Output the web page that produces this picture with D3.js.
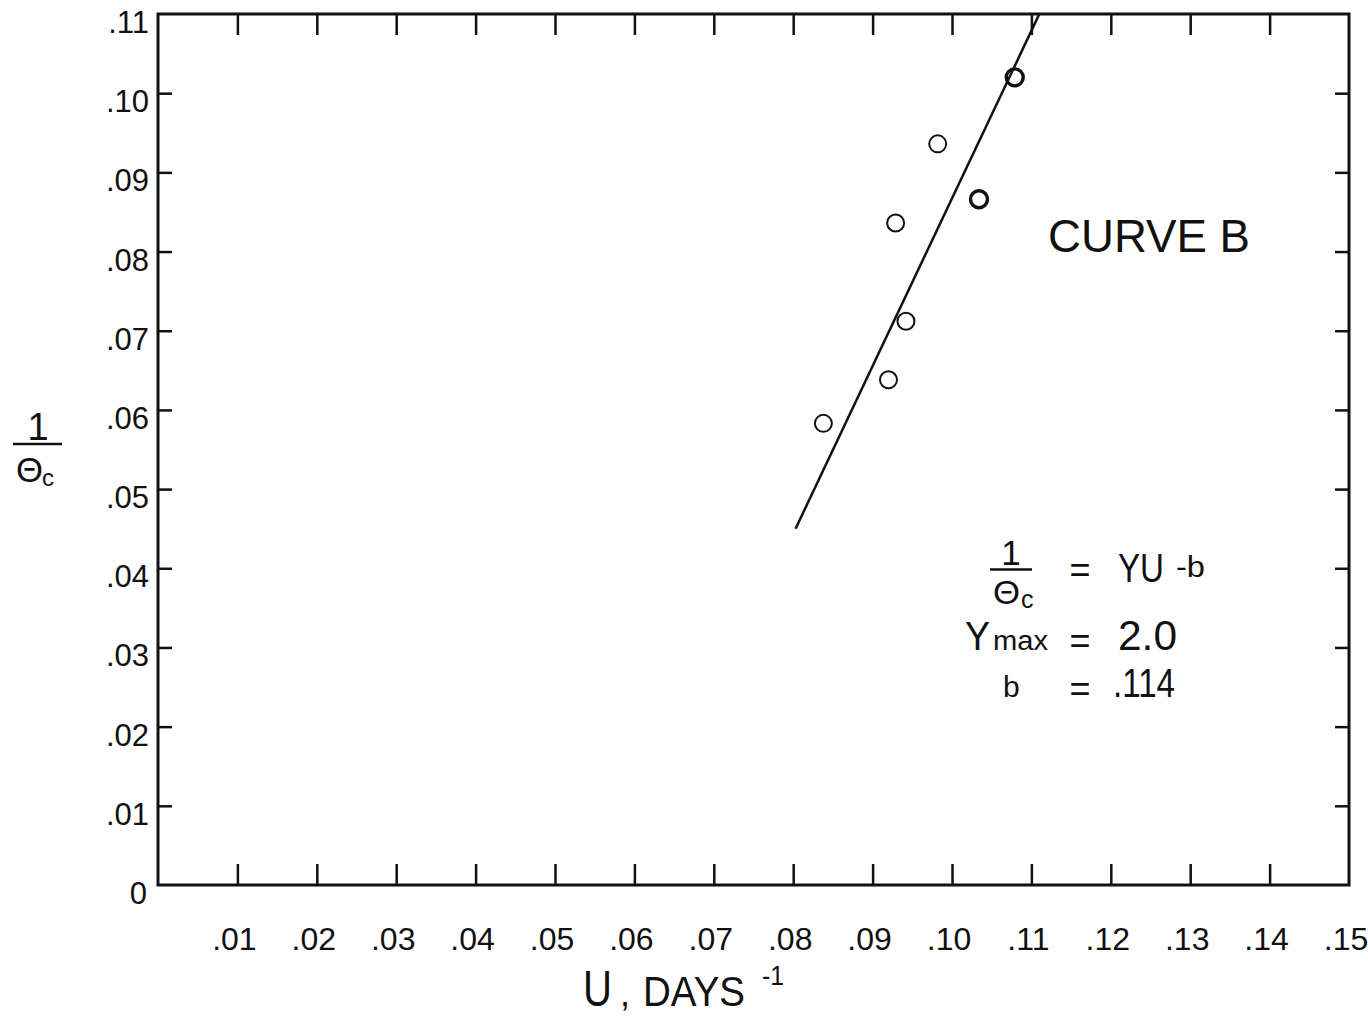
<!DOCTYPE html>
<html>
<head>
<meta charset="utf-8">
<script src="https://cdn.jsdelivr.net/npm/d3@7"></script>
<style>
  html, body { margin: 0; padding: 0; background: #fff; }
  svg { display: block; }
  text { font-family: "Liberation Sans", Arial, sans-serif; fill: #111; }
</style>
</head>
<body>
<svg id="chart" width="1368" height="1018"></svg>
<script>
// ---- data ----
const xTicks = [0.01, 0.02, 0.03, 0.04, 0.05, 0.06, 0.07, 0.08, 0.09, 0.10, 0.11, 0.12, 0.13, 0.14, 0.15];
const xTickLabels = [".01", ".02", ".03", ".04", ".05", ".06", ".07", ".08", ".09", ".10", ".11", ".12", ".13", ".14", ".15"];
const yTicks = [0, 0.01, 0.02, 0.03, 0.04, 0.05, 0.06, 0.07, 0.08, 0.09, 0.10, 0.11];
const yTickLabels = ["0", ".01", ".02", ".03", ".04", ".05", ".06", ".07", ".08", ".09", ".10", ".11"];
// observed points: U (days^-1) and 1/theta_c
const uValues      = [0.0838, 0.0920, 0.0942, 0.0929, 0.0982, 0.1034, 0.1079];
const invTheta     = [0.0583, 0.0638, 0.0712, 0.0836, 0.0936, 0.0866, 0.1020];
const observations = [1, 1, 1, 1, 1, 2, 2]; // heavier circles = overlapping observations
// fitted line
const fitU = [0.0803, 0.1110];
const fitY = [0.0450, 0.1100];

// ---- drawing ----
const svg = d3.select("#chart");
const pLeft = 158, pRight = 1349, pTop = 14, pBottom = 885;
const x = d3.scaleLinear().domain([0, 0.15]).range([pLeft, pRight]);
const y = d3.scaleLinear().domain([0, 0.11]).range([pBottom, pTop]);

const g = svg.append("g");

// frame
g.append("rect")
  .attr("x", pLeft).attr("y", pTop)
  .attr("width", pRight - pLeft).attr("height", pBottom - pTop)
  .attr("fill", "none").attr("stroke", "#111").attr("stroke-width", 3);

function styleAxis(a) {
  a.select(".domain").remove();
  a.selectAll("line").attr("stroke", "#111").attr("stroke-width", 2.5);
}
// bottom axis (ticks inward)
g.append("g").attr("transform", `translate(0,${pBottom})`)
  .call(d3.axisBottom(x).tickValues(xTicks.slice(0, 14)).tickSize(-21).tickFormat(""))
  .call(styleAxis);
// top axis (ticks inward)
g.append("g").attr("transform", `translate(0,${pTop})`)
  .call(d3.axisTop(x).tickValues(xTicks.slice(0, 14)).tickSize(-21).tickFormat(""))
  .call(styleAxis);
// left axis
g.append("g").attr("transform", `translate(${pLeft},0)`)
  .call(d3.axisLeft(y).tickValues(yTicks.slice(1, 11)).tickSize(-14).tickFormat(""))
  .call(styleAxis);
// right axis
g.append("g").attr("transform", `translate(${pRight},0)`)
  .call(d3.axisRight(y).tickValues(yTicks.slice(1, 11)).tickSize(-14).tickFormat(""))
  .call(styleAxis);

// x tick labels
g.append("g").selectAll("text").data(xTicks).join("text")
  .attr("x", d => x(d) - 3).attr("y", 950)
  .attr("text-anchor", "middle").attr("font-size", 32)
  .text((d, i) => xTickLabels[i]);

// y tick labels
g.append("g").selectAll("text").data(yTicks).join("text")
  .attr("x", (d, i) => i === 0 ? 147 : 149).attr("y", d => y(d) + 19)
  .attr("text-anchor", "end").attr("font-size", 31)
  .text((d, i) => yTickLabels[i]);

// fitted line
g.append("path")
  .datum(fitU.map((u, i) => [u, fitY[i]]))
  .attr("d", d3.line().x(d => x(d[0])).y(d => y(d[1])))
  .attr("fill", "none").attr("stroke", "#111").attr("stroke-width", 2.5);

// points
g.append("g").selectAll("circle").data(uValues).join("circle")
  .attr("cx", d => x(d))
  .attr("cy", (d, i) => y(invTheta[i]))
  .attr("r", 8.5)
  .attr("fill", "none").attr("stroke", "#111")
  .attr("stroke-width", (d, i) => observations[i] > 1 ? 3.4 : 2);

// helper for annotation text
function txt(parent, s, px, py, size, opts = {}) {
  const t = parent.append("text").attr("x", px).attr("y", py).attr("font-size", size).text(s);
  if (opts.anchor) t.attr("text-anchor", opts.anchor);
  if (opts.len) t.attr("textLength", opts.len).attr("lengthAdjust", "spacingAndGlyphs");
  return t;
}

// CURVE B
txt(g, "CURVE B", 1048, 252, 47, { len: 202 });

// equation block
const eq = g.append("g");
txt(eq, "1", 1011, 565, 35, { anchor: "middle" });
eq.append("line").attr("x1", 990).attr("x2", 1032).attr("y1", 569.5).attr("y2", 569.5)
  .attr("stroke", "#111").attr("stroke-width", 2.5);
txt(eq, "Θ", 993, 604, 34, { len: 27 });
txt(eq, "c", 1021, 608, 25);
txt(eq, "=", 1080, 582, 36, { anchor: "middle" });
txt(eq, "YU", 1118, 582, 41, { len: 46 });
txt(eq, "-b", 1176, 577, 29, { len: 29 });

txt(eq, "Y", 965, 650, 40, { len: 25 });
txt(eq, "max", 993, 650, 27, { len: 55 });
txt(eq, "=", 1080, 653, 36, { anchor: "middle" });
txt(eq, "2.0", 1118, 650, 42, { len: 59 });

txt(eq, "b", 1003, 697, 30);
txt(eq, "=", 1080, 701, 36, { anchor: "middle" });
txt(eq, ".114", 1113, 697, 41, { len: 62 });

// y axis title
const yt = g.append("g");
txt(yt, "1", 38, 440, 38, { anchor: "middle" });
yt.append("line").attr("x1", 13).attr("x2", 62).attr("y1", 444).attr("y2", 444)
  .attr("stroke", "#111").attr("stroke-width", 2.5);
txt(yt, "Θ", 16, 482, 35, { len: 27 });
txt(yt, "c", 42, 486, 24);

// x axis title
const xt = g.append("g");
txt(xt, "U", 583, 1006, 50, { len: 29 });
txt(xt, ",", 620, 1006, 36);
txt(xt, "DAYS", 643, 1006, 42, { len: 102 });
txt(xt, "-1", 762, 985, 28, { len: 22 });
</script>
</body>
</html>
